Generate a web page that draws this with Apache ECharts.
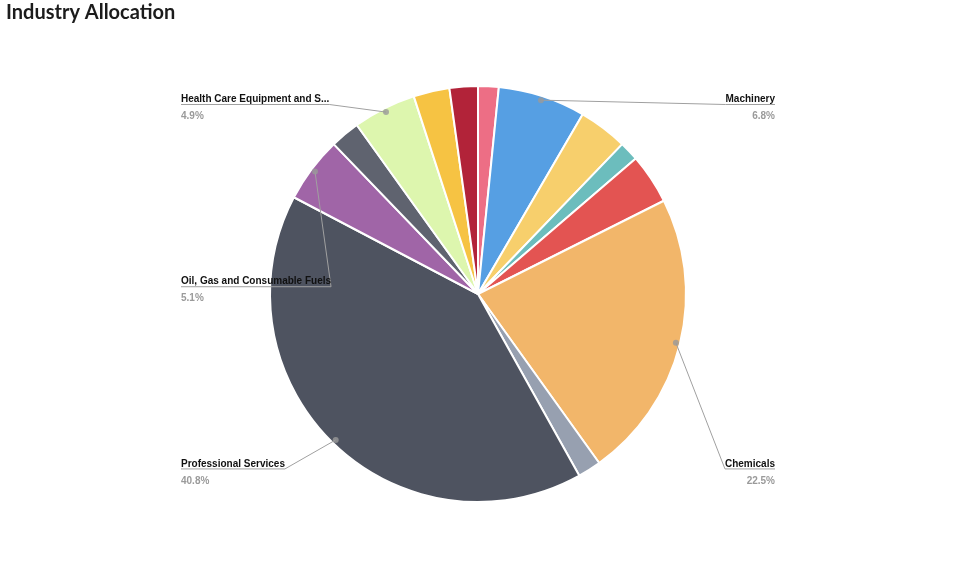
<!DOCTYPE html>
<html>
<head>
<meta charset="utf-8">
<style>
  html, body { margin: 0; padding: 0; background: #ffffff; }
  #chart { width: 960px; height: 568px; }
</style>
<script src="https://cdn.jsdelivr.net/npm/echarts@6/dist/echarts.min.js"></script>
</head>
<body>
<div id="chart"></div>
<script>
// ---- data (clockwise from 12 o'clock) ----
const categories = [
  'Construction & Engineering',
  'Machinery',
  'Electrical Equipment',
  'Building Products',
  'Trading Companies & Distributors',
  'Chemicals',
  'Commercial Services & Supplies',
  'Professional Services',
  'Oil, Gas and Consumable Fuels',
  'Metals & Mining',
  'Health Care Equipment and Supplies',
  'Containers & Packaging',
  'Life Sciences Tools & Services'
];
const values = [1.6, 6.8, 3.8, 1.5, 3.9, 22.5, 1.8, 40.8, 5.1, 2.3, 4.9, 2.8, 2.2];
const colors = ['#ed6e85', '#569fe3', '#f7cf6c', '#6cbdbd', '#e35452', '#f2b66a', '#97a0b0',
                '#4e5360', '#a065a7', '#5f636f', '#ddf6ae', '#f6c343', '#b22339'];

// ---- layout constants ----
const CX = 478, CY = 294, R = 208;
const MIN_LABEL_ANGLE = 15;          // degrees
const DOT_R = 0.98;                  // dot position as fraction of radius
const LEFT_X = 181, RIGHT_X = 775;
const ROW_TOP = CY - 0.911 * R, ROW_BOTTOM = CY + 0.841 * R;
const NAME_LH = 10, PCT_LH = 24;
const LABEL_FONT = 'bold 10px "Liberation Sans"';

const total = values.reduce((a, b) => a + b, 0);
let acc = 0;
const mids = values.map(v => { const m = acc + v / 2; acc += v; return m; });
const shown = values.map(v => v / total * 360 >= MIN_LABEL_ANGLE);
const rightIdx = values.map((v, i) => i).filter(i => shown[i] && mids[i] / total < 0.5)
  .sort((a, b) => mids[a] - mids[b]);
const leftIdx = values.map((v, i) => i).filter(i => shown[i] && mids[i] / total >= 0.5)
  .sort((a, b) => mids[b] - mids[a]);

function truncate(text, width) {
  if (echarts.format && echarts.format.truncateText) {
    return echarts.format.truncateText(text, width, LABEL_FONT, '...');
  }
  const ctx = document.createElement('canvas').getContext('2d');
  ctx.font = LABEL_FONT;
  if (ctx.measureText(text).width <= width) return text;
  let t = text;
  while (t.length && ctx.measureText(t + '...').width > width) t = t.slice(0, -1);
  return t + '...';
}

const chart = echarts.init(document.getElementById('chart'));

const baseData = categories.map((c, i) => ({ name: c, value: values[i], itemStyle: { color: colors[i] } }));

const option = {
  animation: false,
  title: {
    text: 'Industry Allocation',
    left: 6, top: 3, padding: 0,
    textStyle: { fontFamily: 'Lato', fontWeight: 'bold', fontSize: 20, color: '#1c1c1c' }
  },
  polar: { center: [CX, CY], radius: R },
  angleAxis: { type: 'value', min: 0, max: total, startAngle: 90, clockwise: true, show: false },
  radiusAxis: { type: 'value', min: 0, max: 1, show: false },
  series: [
    {
      // the slices
      type: 'pie',
      center: [CX, CY],
      radius: R,
      startAngle: 90,
      clockwise: true,
      itemStyle: { borderColor: '#ffffff', borderWidth: 2 },
      data: baseData,
      label: { show: false },
      labelLine: { show: false },
      z: 1
    },
    {
      // same layout, transparent slices; carries the labels and leader lines above the slices
      type: 'pie',
      center: [CX, CY],
      radius: R,
      startAngle: 90,
      clockwise: true,
      silent: true,
      avoidLabelOverlap: false,
      minShowLabelAngle: MIN_LABEL_ANGLE,
      itemStyle: { color: 'rgba(0,0,0,0)', borderWidth: 0 },
      data: categories.map((c, i) => ({ name: c, value: values[i] })),
      label: {
        show: true,
        position: 'outside',
        formatter: p => '{name|' + truncate(p.name, 152) + '}\n{pct|' + p.value.toFixed(1) + '%}',
        rich: {
          name: { fontFamily: 'Liberation Sans', fontWeight: 'bold', fontSize: 10, color: '#111111', lineHeight: NAME_LH },
          pct: { fontFamily: 'Liberation Sans', fontWeight: 'bold', fontSize: 10, color: '#9a9a9a', lineHeight: PCT_LH }
        }
      },
      labelLine: { show: true, showAbove: true, length: 10, length2: 10, lineStyle: { color: '#a0a0a0', width: 1 } },
      labelLayout: function (p) {
        const i = p.dataIndex;
        let side = null, list = null;
        if (rightIdx.indexOf(i) >= 0) { side = 'right'; list = rightIdx; }
        else if (leftIdx.indexOf(i) >= 0) { side = 'left'; list = leftIdx; }
        if (!side) return {};
        const k = list.indexOf(i);
        const rowY = list.length === 1 ? (ROW_TOP + ROW_BOTTOM) / 2
          : ROW_TOP + (ROW_BOTTOM - ROW_TOP) * k / (list.length - 1);
        const w = p.labelRect.width;
        const a = mids[i] / total * 2 * Math.PI;
        const sx = CX + DOT_R * R * Math.sin(a), sy = CY - DOT_R * R * Math.cos(a);
        if (side === 'left') {
          return {
            x: LEFT_X, y: rowY - NAME_LH, align: 'left', verticalAlign: 'top',
            labelLinePoints: [[sx, sy], [LEFT_X + w, rowY], [LEFT_X, rowY]]
          };
        }
        return {
          x: RIGHT_X, y: rowY - NAME_LH, align: 'right', verticalAlign: 'top',
          labelLinePoints: [[sx, sy], [RIGHT_X - w, rowY], [RIGHT_X, rowY]]
        };
      },
      z: 3
    },
    {
      type: 'scatter',
      coordinateSystem: 'polar',
      symbol: 'circle',
      symbolSize: 6,
      silent: true,
      itemStyle: { color: '#9a9a9a' },
      data: values.map((v, i) => shown[i] ? [DOT_R, mids[i]] : null).filter(d => d),
      z: 5
    }
  ]
};
chart.setOption(option);
</script>
</body>
</html>
